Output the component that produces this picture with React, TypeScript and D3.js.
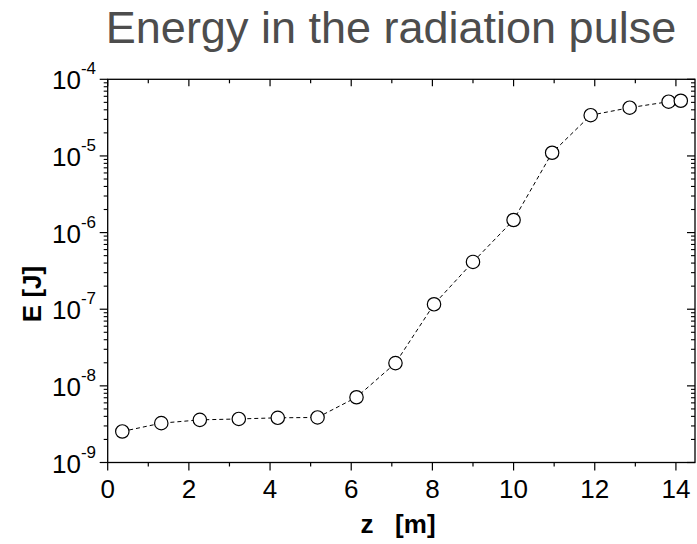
import React from "react";
import * as d3 from "d3";

const zValues = [0.36, 1.32, 2.27, 3.23, 4.19, 5.17, 6.13, 7.09, 8.04, 9.0, 10.0, 10.95, 11.9, 12.86, 13.82, 14.12];
const energyValues = [2.54e-9, 3.26e-9, 3.6e-9, 3.7e-9, 3.83e-9, 3.87e-9, 7.1e-9, 1.98e-8, 1.16e-7, 4.14e-7, 1.46e-6, 1.1e-5, 3.4e-5, 4.26e-5, 5.1e-5, 5.25e-5];
const xTickLabels = [0, 2, 4, 6, 8, 10, 12, 14];
const xMinorTicks = [1, 3, 5, 7, 9, 11, 13];
const yExponents = [-9, -8, -7, -6, -5, -4];

const W = 697;
const H = 544;
const L = 107.7;
const R = 695;
const T = 79.3;
const B = 462.5;
const FONT = "'Liberation Sans', Arial, Helvetica, sans-serif";

export default function App() {
  const x = d3.scaleLinear().domain([0, 14.47]).range([L, R]);
  const y = d3.scaleLog().domain([1e-9, 1e-4]).range([B, T]);

  const minorY: number[] = [];
  for (let e = -9; e < -4; e++) {
    for (let m = 2; m <= 9; m++) minorY.push(m * Math.pow(10, e));
  }

  const line = d3
    .line<number>()
    .x((_, i) => x(zValues[i]))
    .y((d) => y(d));

  return (
    <svg width={W} height={H} style={{ position: "absolute", left: 0, top: 0, background: "#fff" }}>
      <rect width={W} height={H} fill="#fff" />
      <text x={391} y={43} textAnchor="middle" fontFamily={FONT} fontSize={45} fill="#4d4d4d">
        Energy in the radiation pulse
      </text>

      {/* frame */}
      <rect x={L} y={T} width={R - L} height={B - T} fill="none" stroke="#000" strokeWidth={1.3} />

      {/* x ticks */}
      {xTickLabels.map((v) => (
        <g key={"xt" + v}>
          <line x1={x(v)} x2={x(v)} y1={B} y2={B + 8} stroke="#000" strokeWidth={1.2} />
          <line x1={x(v)} x2={x(v)} y1={T} y2={T + 7} stroke="#000" strokeWidth={1.2} />
          <text x={x(v)} y={498} textAnchor="middle" fontFamily={FONT} fontSize={26} fill="#000">
            {v}
          </text>
        </g>
      ))}
      {xMinorTicks.map((v) => (
        <g key={"xm" + v}>
          <line x1={x(v)} x2={x(v)} y1={B} y2={B + 4} stroke="#000" strokeWidth={1.2} />
          <line x1={x(v)} x2={x(v)} y1={T} y2={T + 4} stroke="#000" strokeWidth={1.2} />
        </g>
      ))}

      {/* y ticks */}
      {yExponents.map((e) => {
        const yy = y(Math.pow(10, e));
        return (
          <g key={"yt" + e}>
            <line x1={L - 8} x2={L} y1={yy} y2={yy} stroke="#000" strokeWidth={1.2} />
            <line x1={R - 8} x2={R} y1={yy} y2={yy} stroke="#000" strokeWidth={1.2} />
            <text x={96} y={yy + 10} textAnchor="end" fontFamily={FONT} fontSize={26} fill="#000">
              10
              <tspan fontSize={17} dy={-15}>
                {String(e)}
              </tspan>
            </text>
          </g>
        );
      })}
      {minorY.map((v, i) => {
        const yy = y(v);
        return (
          <g key={"ym" + i}>
            <line x1={L - 4} x2={L} y1={yy} y2={yy} stroke="#000" strokeWidth={1.1} />
            <line x1={R - 4} x2={R} y1={yy} y2={yy} stroke="#000" strokeWidth={1.1} />
          </g>
        );
      })}

      {/* data */}
      <path d={line(energyValues) || ""} fill="none" stroke="#000" strokeWidth={1} strokeDasharray="4,3" />
      {energyValues.map((v, i) => (
        <circle key={"p" + i} cx={x(zValues[i])} cy={y(v)} r={6.7} fill="#fff" stroke="#000" strokeWidth={1.2} />
      ))}

      {/* axis titles */}
      <text x={398} y={533} textAnchor="middle" fontFamily={FONT} fontSize={26} fontWeight="bold" fill="#000" style={{ whiteSpace: "pre" }}>
        {"z   [m]"}
      </text>
      <text
        transform="translate(41,294) rotate(-90)"
        textAnchor="middle"
        fontFamily={FONT}
        fontSize={26}
        fontWeight="bold"
        fill="#000"
        style={{ whiteSpace: "pre" }}
      >
        {"E [J]"}
      </text>
    </svg>
  );
}
